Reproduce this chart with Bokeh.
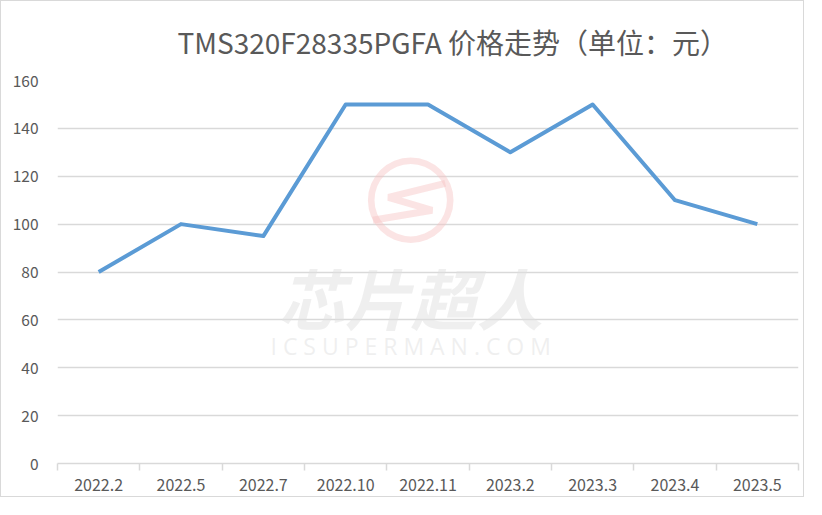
from bokeh.plotting import figure
from bokeh.models import (FixedTicker, Range1d, Title, Label, ColumnDataSource)
from bokeh.embed import file_html
from bokeh.resources import INLINE

title_text = "TMS320F28335PGFA  价格走势（单位：元）"
categories = ["2022.2", "2022.5", "2022.7", "2022.10", "2022.11",
              "2023.2", "2023.3", "2023.4", "2023.5"]
prices = [80, 100, 95, 150, 150, 130, 150, 110, 100]
y_ticks = [0, 20, 40, 60, 80, 100, 120, 140, 160]

FONT = "Noto Sans CJK SC"
TXT = "#595959"
GRID = "#d9d9d9"

n = len(categories)
xs = [i + 0.5 for i in range(n)]

p = figure(width=804, height=497, output_backend="svg", toolbar_location=None,
           x_range=Range1d(0, n), y_range=Range1d(0, 160),
           min_border_left=56, min_border_right=7, min_border_top=79,
           min_border_bottom=35)
p.styles = {"border": "1px solid #d9d9d9"}
p.outline_line_color = None
p.background_fill_color = "white"
p.border_fill_color = "white"

t = Title(text=title_text, align="left", offset=120,
          text_font=FONT, text_font_size="28px", text_font_style="normal",
          text_color=TXT, standoff=37)
p.add_layout(t, "above")

# x axis: boundary ticks (minor), labels at centers (major)
p.xaxis.ticker = FixedTicker(ticks=xs, minor_ticks=list(range(n + 1)))
p.xaxis.major_label_overrides = {x: c for x, c in zip(xs, categories)}
p.xaxis.major_tick_out = 0
p.xaxis.major_tick_in = 0
p.xaxis.minor_tick_out = 7
p.xaxis.minor_tick_in = 0
p.xaxis.minor_tick_line_color = GRID
p.xaxis.minor_tick_line_width = 1.5
p.xaxis.axis_line_color = GRID
p.xaxis.axis_line_width = 1.5
p.xaxis.major_label_text_font = FONT
p.xaxis.major_label_text_font_size = "16px"
p.xaxis.major_label_text_color = TXT
p.xaxis.major_label_standoff = 8

p.yaxis.ticker = FixedTicker(ticks=y_ticks)
p.yaxis.axis_line_color = None
p.yaxis.major_tick_line_color = None
p.yaxis.minor_tick_line_color = None
p.yaxis.major_label_text_font = FONT
p.yaxis.major_label_text_font_size = "15.5px"
p.yaxis.major_label_text_color = TXT
p.yaxis.major_label_standoff = 13

p.xgrid.grid_line_color = None
p.ygrid.grid_line_color = GRID
p.ygrid.grid_line_width = 1.5

# watermark (decorative)
p.annulus(x=4.29, y=110, inner_radius=0.44, outer_radius=0.52,
          fill_color="#f6c4c4", fill_alpha=0.45, line_color=None)
p.line(x=[4.71, 4.02, 4.55, 3.83], y=[117, 111.2, 105.8, 101.6],
       line_color="#f6c4c4", line_alpha=0.45, line_width=7)
p.add_layout(Label(x=4.29, y=70, text="芯片超人", text_align="center",
                   text_baseline="middle", text_font=FONT,
                   text_font_size="66px", text_font_style="bold italic",
                   text_color="#e0e0e0", text_alpha=0.5))
p.add_layout(Label(x=4.29, y=49, text="I C S U P E R M A N . C O M",
                   text_align="center", text_baseline="middle",
                   text_font="Open Sans", text_font_size="23px",
                   text_color="#e0e0e0", text_alpha=0.5))

src = ColumnDataSource(dict(x=xs, y=prices))
p.line("x", "y", source=src, line_color="#5b9bd5", line_width=4,
       line_join="round")

open("out.html", "w").write(file_html(p, INLINE))
